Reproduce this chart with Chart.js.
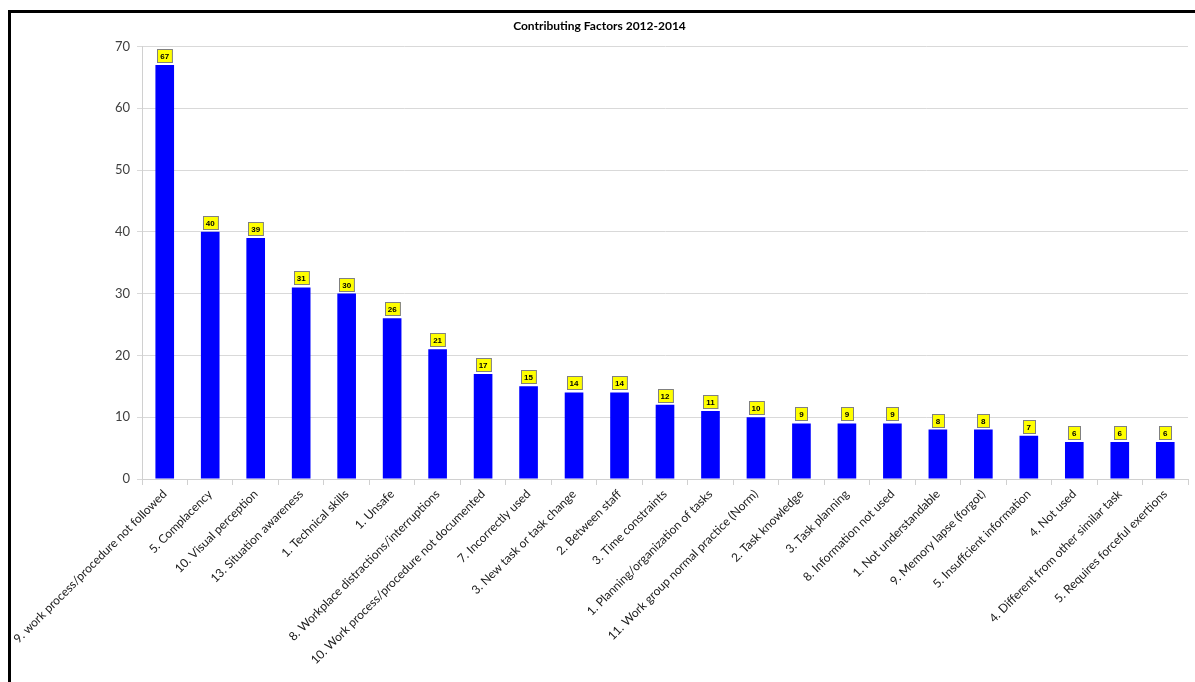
<!DOCTYPE html>
<html>
<head>
<meta charset="utf-8">
<script src="https://cdn.jsdelivr.net/npm/chart.js@4"></script>
<style>
  html, body { margin: 0; padding: 0; background: #fff; }
  #frame {
    position: absolute; left: 8px; top: 10px;
    width: 1184px; height: 669px;
    border-top: 3px solid #000; border-left: 3px solid #000;
  }
  #canvas-bar { display: block; }
</style>
</head>
<body>
<div id="frame"><canvas id="canvas-bar" width="1184" height="669"></canvas></div>
<script>
var factors = [
  "9. work process/procedure not followed",
  "5. Complacency",
  "10. Visual perception",
  "13. Situation awareness",
  "1. Technical skills",
  "1. Unsafe",
  "8. Workplace distractions/interruptions",
  "10. Work process/procedure not documented",
  "7. Incorrectly used",
  "3. New task or task change",
  "2. Between staff",
  "3. Time constraints",
  "1. Planning/organization of tasks",
  "11. Work group normal practice (Norm)",
  "2. Task knowledge",
  "3. Task planning",
  "8. Information not used",
  "1. Not understandable",
  "9. Memory lapse (forgot)",
  "5. Insuffcient information",
  "4. Not used",
  "4. Different from other similar task",
  "5. Requires forceful exertions"
];
var counts = [67, 40, 39, 31, 30, 26, 21, 17, 15, 14, 14, 12, 11, 10, 9, 9, 9, 8, 8, 7, 6, 6, 6];
var yTicks = [0, 10, 20, 30, 40, 50, 60, 70];

// yellow value boxes above each bar
var valueBoxes = {
  id: "valueBoxes",
  afterDatasetsDraw: function(chart) {
    var ctx = chart.ctx;
    var meta = chart.getDatasetMeta(0);
    ctx.save();
    ctx.font = "bold 8px 'Liberation Sans', Arial, sans-serif";
    ctx.textAlign = "center";
    ctx.textBaseline = "middle";
    meta.data.forEach(function(bar, i) {
      var txt = String(counts[i]);
      var w = Math.max(ctx.measureText(txt).width + 6, 12);
      var h = 13;
      var x = Math.round(bar.x - w / 2) + 0.5;
      var y = Math.round(bar.y - 3 - h) + 0.5;
      ctx.fillStyle = "#ffff00";
      ctx.fillRect(x, y, w, h);
      ctx.strokeStyle = "#808080";
      ctx.lineWidth = 1;
      ctx.strokeRect(x, y, w, h);
      ctx.fillStyle = "#000";
      ctx.fillText(txt, bar.x, y + h / 2 + 0.5);
    });
    ctx.restore();
  }
};

var ctx = document.getElementById("canvas-bar").getContext("2d");
var chart = new Chart(ctx, {
  type: "bar",
  data: {
    labels: factors,
    datasets: [
      {
        label: "Contributing Factors",
        backgroundColor: "#0000ff",
        borderWidth: 0,
        barPercentage: 0.41,
        categoryPercentage: 1,
        data: counts
      }
    ]
  },
  options: {
    responsive: false,
    animation: false,
    layout: { padding: { left: 0, right: 7, top: 0, bottom: 0 } },
    plugins: {
      legend: { display: false },
      tooltip: { enabled: false },
      title: {
        display: true,
        text: "Contributing Factors 2012-2014",
        color: "#000",
        font: { family: "Lato, 'Liberation Sans', sans-serif", size: 12, weight: "bold" },
        padding: { top: 6, bottom: 13 }
      }
    },
    scales: {
      x: {
        afterFit: function(scale) { scale.height = 203; },
        grid: {
          drawOnChartArea: false,
          drawTicks: true,
          tickLength: 6,
          color: "#d0d0d0",
          offset: true
        },
        border: { color: "#d0d0d0" },
        ticks: {
          autoSkip: false,
          minRotation: 45,
          maxRotation: 45,
          padding: 2,
          color: "#202020",
          font: { family: "Lato, 'Liberation Sans', sans-serif", size: 12 }
        }
      },
      y: {
        min: 0,
        max: 70,
        afterFit: function(scale) { scale.width = 131; },
        afterBuildTicks: function(scale) {
          scale.ticks = yTicks.map(function(v) { return { value: v }; });
        },
        grid: { color: "#d9d9d9", tickLength: 5 },
        border: { color: "#d0d0d0" },
        ticks: {
          padding: 7,
          color: "#404040",
          font: { family: "Lato, 'Liberation Sans', sans-serif", size: 13 }
        }
      }
    }
  },
  plugins: [valueBoxes]
});
chart.render();
</script>
</body>
</html>
